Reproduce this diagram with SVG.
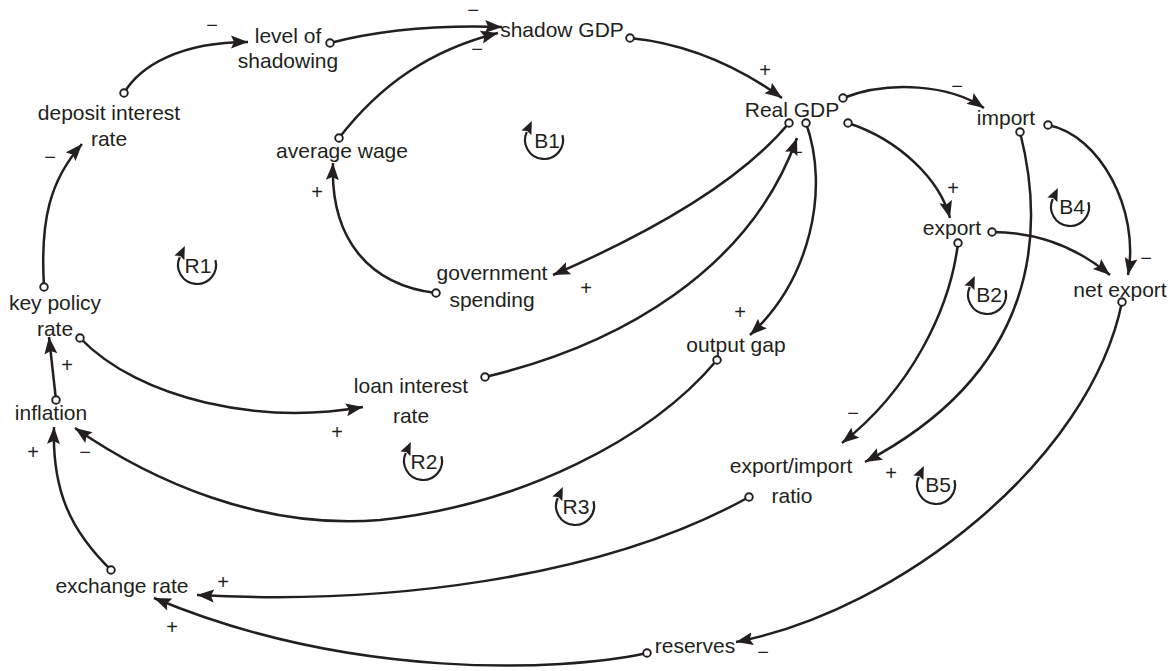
<svg xmlns="http://www.w3.org/2000/svg" width="1173" height="671" viewBox="0 0 1173 671">
<style>
  .lbl{font-family:"Liberation Sans",Arial,sans-serif;font-size:21px;fill:#231f20;text-anchor:middle}
  .sg{font-family:"Liberation Sans",Arial,sans-serif;font-size:20px;fill:#231f20;text-anchor:middle}
  .ln{fill:none;stroke:#231f20;stroke-width:2.5;marker-start:url(#dot);marker-end:url(#arr)}
  .lp{fill:none;stroke:#231f20;stroke-width:2.2;marker-end:url(#arrS)}
</style>
<defs>
  <marker id="arr" markerUnits="userSpaceOnUse" markerWidth="18" markerHeight="14" refX="17" refY="7" orient="auto">
    <path d="M0,0.5 L17,7 L0,13.5 L3,7 z" fill="#231f20"/>
  </marker>
  <marker id="arrS" markerUnits="userSpaceOnUse" markerWidth="14" markerHeight="12" refX="1" refY="6" orient="auto">
    <path d="M0,0.5 L13,6 L0,11.5 L2,6 z" fill="#231f20"/>
  </marker>
  <marker id="dot" markerUnits="userSpaceOnUse" markerWidth="12" markerHeight="12" refX="6" refY="6" orient="0">
    <circle cx="6" cy="6" r="3.8" fill="#fff" stroke="#231f20" stroke-width="1.9"/>
  </marker>
  <g id="loop">
    <path class="lp" d="M18.4,-4.9 A19,19 0 1 1 -17.2,-8.0"/>
  </g>
</defs>
<rect width="1173" height="671" fill="#fff"/>

<g id="connectors">
  <path class="ln" d="M124,93 C140,66 180,42 248,42"/>
  <path class="ln" d="M330,43 C380,30 440,25 502,27"/>
  <path class="ln" d="M339,138 C380,85 430,50 498,33"/>
  <path class="ln" d="M630,38 C700,45 750,75 782,98"/>
  <path class="ln" d="M843,98 C890,80 950,85 984,108"/>
  <path class="ln" d="M848,123 C900,140 940,180 950,218"/>
  <path class="ln" d="M1048,125 C1100,135 1140,210 1128,275"/>
  <path class="ln" d="M992,232 C1040,232 1080,250 1110,275"/>
  <path class="ln" d="M1020,132 C1045,230 1040,370 865,462"/>
  <path class="ln" d="M958,243 C950,310 910,390 842,443"/>
  <path class="ln" d="M1122,302 C1090,460 900,610 736,642"/>
  <path class="ln" d="M749,497 C600,580 380,605 197,595"/>
  <path class="ln" d="M647,653 C560,672 350,680 154,598"/>
  <path class="ln" d="M111,570 C70,530 52,490 54,427"/>
  <path class="ln" d="M717,360 C650,440 520,505 380,520 C260,530 150,480 75,428"/>
  <path class="ln" d="M56,400 L49,337"/>
  <path class="ln" d="M44,287 C40,220 50,180 82,144"/>
  <path class="ln" d="M80,338 C140,400 260,425 363,407"/>
  <path class="ln" d="M485,377 C620,345 750,270 797,138"/>
  <path class="ln" d="M789,123 C750,170 680,220 553,275"/>
  <path class="ln" d="M806,123 C830,190 810,280 750,335"/>
  <path class="ln" d="M436,293 C370,285 330,240 333,163"/>
</g>

<g id="polarities">
  <text class="sg" x="212" y="32">−</text>
  <text class="sg" x="473" y="17">−</text>
  <text class="sg" x="477" y="56">−</text>
  <text class="sg" x="765" y="77">+</text>
  <text class="sg" x="957" y="93">−</text>
  <text class="sg" x="953" y="195">+</text>
  <text class="sg" x="1146" y="265">−</text>
  <text class="sg" x="797" y="159">−</text>
  <text class="sg" x="586" y="295">+</text>
  <text class="sg" x="740" y="319">+</text>
  <text class="sg" x="317" y="199">+</text>
  <text class="sg" x="50" y="164">−</text>
  <text class="sg" x="67" y="372">+</text>
  <text class="sg" x="337" y="439">+</text>
  <text class="sg" x="33" y="459">+</text>
  <text class="sg" x="85" y="459">−</text>
  <text class="sg" x="853" y="420">−</text>
  <text class="sg" x="891" y="480">+</text>
  <text class="sg" x="763" y="659">−</text>
  <text class="sg" x="223" y="589">+</text>
  <text class="sg" x="172" y="634">+</text>
</g>

<g id="loops">
  <g id="loop-R1"><use href="#loop" x="197" y="265"/><text class="lbl" x="198" y="273">R1</text></g>
  <g id="loop-B1"><use href="#loop" x="544" y="140"/><text class="lbl" x="547" y="148">B1</text></g>
  <g id="loop-R2"><use href="#loop" x="423" y="461"/><text class="lbl" x="424" y="469">R2</text></g>
  <g id="loop-R3"><use href="#loop" x="575" y="506"/><text class="lbl" x="576" y="514">R3</text></g>
  <g id="loop-B4"><use href="#loop" x="1070" y="207"/><text class="lbl" x="1072" y="214">B4</text></g>
  <g id="loop-B2"><use href="#loop" x="987" y="295"/><text class="lbl" x="989" y="302">B2</text></g>
  <g id="loop-B5"><use href="#loop" x="936" y="485"/><text class="lbl" x="938" y="492">B5</text></g>
</g>

<g id="node-level-of-shadowing"><text class="lbl" x="288" y="43">level of</text><text class="lbl" x="288" y="68">shadowing</text></g>
<g id="node-deposit-interest-rate"><text class="lbl" x="109" y="120">deposit interest</text><text class="lbl" x="109" y="146">rate</text></g>
<g id="node-average-wage"><text class="lbl" x="342" y="158">average wage</text></g>
<g id="node-shadow-gdp"><text class="lbl" x="562" y="37">shadow GDP</text></g>
<g id="node-real-gdp"><text class="lbl" x="792" y="117">Real GDP</text></g>
<g id="node-import"><text class="lbl" x="1006" y="125">import</text></g>
<g id="node-export"><text class="lbl" x="952" y="235">export</text></g>
<g id="node-net-export"><text class="lbl" x="1120" y="297">net export</text></g>
<g id="node-government-spending"><text class="lbl" x="492" y="280">government</text><text class="lbl" x="492" y="307">spending</text></g>
<g id="node-output-gap"><text class="lbl" x="736" y="352">output gap</text></g>
<g id="node-loan-interest-rate"><text class="lbl" x="411" y="393">loan interest</text><text class="lbl" x="411" y="423">rate</text></g>
<g id="node-key-policy-rate"><text class="lbl" x="55" y="310">key policy</text><text class="lbl" x="55" y="336">rate</text></g>
<g id="node-inflation"><text class="lbl" x="51" y="420">inflation</text></g>
<g id="node-exchange-rate"><text class="lbl" x="122" y="593">exchange rate</text></g>
<g id="node-export-import-ratio"><text class="lbl" x="791" y="473">export/import</text><text class="lbl" x="792" y="503">ratio</text></g>
<g id="node-reserves"><text class="lbl" x="695" y="653">reserves</text></g>
</svg>
